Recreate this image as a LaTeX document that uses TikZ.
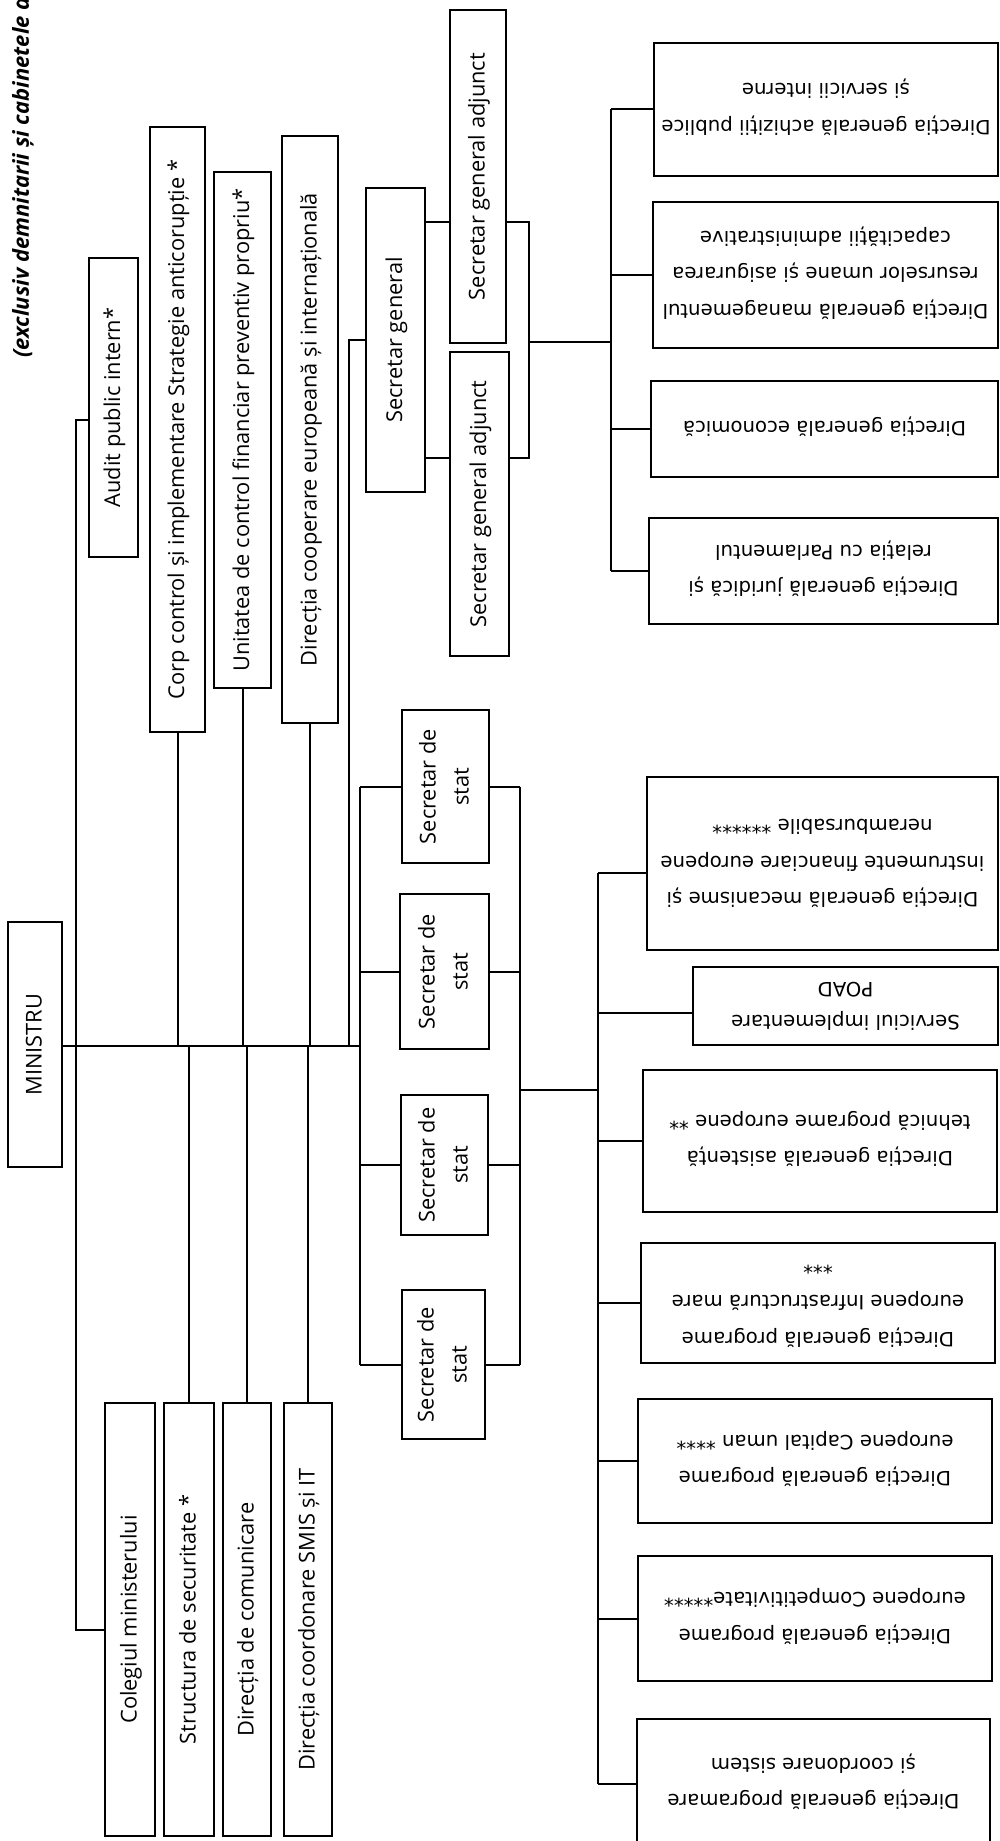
\documentclass[tikz,border=0pt]{standalone}
\usepackage{fontspec}
\usepackage{graphicx}
\usetikzlibrary{calc}
\newfontfamily\osf{Open Sans}
\newfontfamily\dvf{DejaVu Sans}
\newcommand{\vt}[1]{\rotatebox{90}{\begin{tabular}{@{}c@{}}#1\end{tabular}}}
\newcommand{\ut}[1]{\rotatebox{180}{\begin{tabular}{@{}c@{}}#1\end{tabular}}}
\begin{document}
\begin{tikzpicture}[x=1pt,y=-1pt,
  box/.style={draw, line width=1.4pt, inner sep=0pt, outer sep=0pt},
  vbox/.style={box, font=\osf\fontsize{21.8}{33}\selectfont},
  ubox/.style={box, font=\dvf\fontsize{19.7}{36.5}\selectfont},
  conn/.style={line width=2pt}]
\useasboundingbox (0,0) rectangle (999,1841);
\clip (0,0) rectangle (999,1841);
% title
\node[anchor=south, inner sep=0pt, font=\osf\bfseries\itshape\fontsize{22}{26}\selectfont] (title) at (23,358) {\rotatebox{90}{(exclusiv demnitarii și cabinetele a}};
% vertical-text boxes
\node[vbox, minimum width=54, minimum height=245] (mini) at (35,1044.5) {\vt{MINISTRU}};
\node[vbox, minimum width=49, minimum height=299] (audit) at (113.5,407.5) {\vt{Audit public intern*}};
\node[vbox, minimum width=55, minimum height=605] (corp) at (177.5,429.5) {\vt{Corp control și implementare Strategie anticorupție *}};
\node[vbox, minimum width=57, minimum height=516] (unit) at (242.5,430) {\vt{Unitatea de control financiar preventiv propriu*}};
\node[vbox, minimum width=56, minimum height=587] (coop) at (310,429.5) {\vt{Direcția cooperare europeană și internațională}};
\node[vbox, minimum width=59, minimum height=304] (sg) at (395.5,340) {\vt{Secretar general}};
\node[vbox, minimum width=56, minimum height=333] (sga1) at (478,176.5) {\vt{Secretar general adjunct}};
\node[vbox, minimum width=59, minimum height=304] (sga2) at (479.5,504) {\vt{Secretar general adjunct}};
\node[vbox, minimum width=87, minimum height=153] (ss1) at (445.5,786.5) {\vt{Secretar de\\stat}};
\node[vbox, minimum width=89, minimum height=155] (ss2) at (444.5,971.5) {\vt{Secretar de\\stat}};
\node[vbox, minimum width=87, minimum height=140] (ss3) at (444.5,1165) {\vt{Secretar de\\stat}};
\node[vbox, minimum width=83, minimum height=149] (ss4) at (443.5,1364.5) {\vt{Secretar de\\stat}};
\node[vbox, minimum width=50, minimum height=433] (coleg) at (130,1619.5) {\vt{Colegiul ministerului}};
\node[vbox, minimum width=50, minimum height=433] (struct) at (189,1619.5) {\vt{Structura de securitate *}};
\node[vbox, minimum width=48, minimum height=433] (comm) at (247,1619.5) {\vt{Direcția de comunicare}};
\node[vbox, minimum width=48, minimum height=433] (smis) at (308,1619.5) {\vt{Direcția coordonare SMIS și IT}};
% upside-down boxes
\node[ubox, minimum width=344, minimum height=133] (achiz) at (826,109.5) {\ut{Direcția generală achiziții publice\\și servicii interne}};
\node[ubox, minimum width=345, minimum height=146] (mgmt) at (825.5,275) {\ut{Direcția generală managementul\\resurselor umane și asigurarea\\capacității administrative}};
\node[ubox, minimum width=347, minimum height=96] (econ) at (824.5,429) {\ut{Direcția generală economică}};
\node[ubox, minimum width=349, minimum height=106] (jurid) at (823.5,571) {\ut{Direcția generală juridică și\\relația cu Parlamentul}};
\node[ubox, minimum width=351, minimum height=173] (meca) at (822.5,863.5) {\ut{Direcția generală mecanisme și\\instrumente financiare europene\\nerambursabile ******}};
\node[ubox, font=\dvf\fontsize{19.7}{33}\selectfont, minimum width=305, minimum height=78] (poad) at (845.5,1006) {\ut{Serviciul implementare\\POAD}};
\node[ubox, minimum width=354, minimum height=142] (asist) at (820,1141) {\ut{Direcția generală asistență\\tehnică programe europene **}};
\node[ubox, minimum width=354, minimum height=120] (infra) at (818,1303) {\ut{Direcția generală programe\\europene Infrastructură mare\\{***}}};
\node[ubox, minimum width=354, minimum height=124] (capital) at (815,1461) {\ut{Direcția generală programe\\europene Capital uman ****}};
\node[ubox, minimum width=354, minimum height=125] (compet) at (815,1618.5) {\ut{Direcția generală programe\\europene Competitivitate*****}};
\node[ubox, minimum width=353, minimum height=130] (sistem) at (813.5,1784) {\ut{Direcția generală programare\\și coordonare sistem}};
% helper coordinates
\coordinate (mainY) at (0,1046);
\coordinate (ssL) at (360,0);
\coordinate (ssR) at (520,0);
\coordinate (bY) at (0,1090);
\coordinate (bX) at (598,0);
\coordinate (mecaY) at (0,873);
\coordinate (poadY) at (0,1013);
\coordinate (sgA) at (0,222);
\coordinate (sgB) at (0,458);
\coordinate (sgM) at (0,342);
\coordinate (sR) at (529,0);
\coordinate (tX) at (611,0);
% left line
\draw[conn] ($(audit.west)+(0,12)$) -- ++(-13,0) coordinate (lv) -- (lv |- 0,1630) -- (coleg.west |- 0,1630);
% main line
\draw[conn] (mini.east |- mainY) -- (ssL |- mainY);
\foreach \n in {corp,unit,coop} \draw[conn] (\n.south) -- (\n.south |- mainY);
\foreach \n in {struct,comm,smis} \draw[conn] (\n.north) -- (\n.north |- mainY);
\draw[conn] (sg.west) -- ++(-17,0) coordinate (sgl) -- (sgl |- mainY);
% secretari de stat
\draw[conn] (ssL |- ss1.west) -- (ssL |- ss4.west);
\draw[conn] (ssR |- ss1.east) -- (ssR |- ss4.east);
\foreach \n in {ss1,ss2,ss3,ss4} {
  \draw[conn] (\n.west) -- (\n.west -| ssL);
  \draw[conn] (\n.east) -- (\n.east -| ssR);
}
\draw[conn] (ssR |- bY) -- (bX |- bY);
\draw[conn] (bX |- mecaY) -- (bX |- sistem.west);
\draw[conn] (bX |- mecaY) -- (meca.west |- mecaY);
\draw[conn] (bX |- poadY) -- (poad.west |- poadY);
\foreach \n in {asist,infra,capital,compet,sistem} \draw[conn] (bX |- \n.west) -- (\n.west);
% secretar general
\draw[conn] (sg.east |- sgA) -- (sga1.west |- sgA);
\draw[conn] (sg.east |- sgB) -- (sga2.west |- sgB);
\draw[conn] (sga1.east |- sgA) -- (sR |- sgA) -- (sR |- sgB) -- (sga2.east |- sgB);
\draw[conn] (sR |- sgM) -- (tX |- sgM);
\draw[conn] (tX |- achiz.west) -- (tX |- jurid.west);
\foreach \n in {achiz,mgmt,econ,jurid} \draw[conn] (tX |- \n.west) -- (\n.west);
\end{tikzpicture}
\end{document}
